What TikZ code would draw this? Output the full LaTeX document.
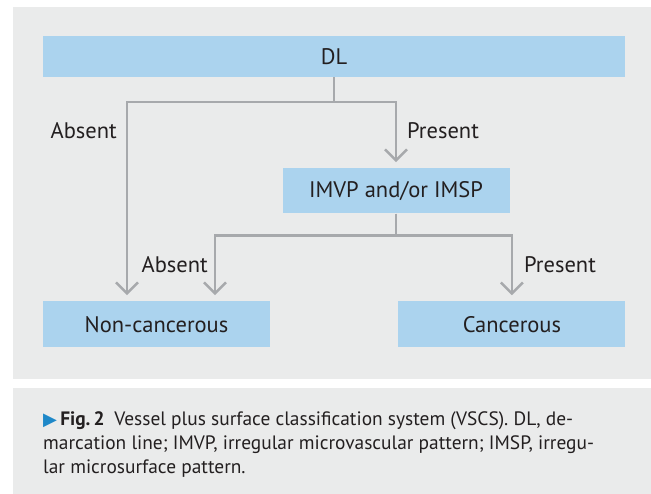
\documentclass[tikz,border=0pt]{standalone}
\usepackage{fontspec}
\setmainfont{PT Sans}
\newfontfamily\symbolfont{DejaVu Sans}
\usetikzlibrary{
	arrows.meta,
	positioning,
	backgrounds,
}
\definecolor{BoxBlue}{HTML}{ABD3EE}
\definecolor{PanelGray}{HTML}{EAEBEB}
\definecolor{LineGray}{HTML}{A7A9AC}
\definecolor{TextDark}{HTML}{231F20}
\definecolor{MarkBlue}{HTML}{1E88C8}

\begin{document}
\begin{tikzpicture}	[x=1pt,y=-1pt,
				every node/.style={align=center,text=TextDark,font=\fontsize{22.5}{27}\selectfont},
				block/.style={fill=BoxBlue,rectangle,minimum width=227pt,minimum height=45pt,inner sep=0pt},
				branch/.style={draw=LineGray,line width=2.5pt,-{Straight Barb[length=11pt,width=22pt]},shorten >=6pt},
				lbl/.style={inner sep=0pt},
			]
			\useasboundingbox (0,0) rectangle (651,494);

			\node (dl) [block,minimum width=582pt,minimum height=41pt] at (334,56.5) {DL};
			\node (imvp) [block,below=91pt of dl,xshift=62pt] {IMVP and/or IMSP};
			\node (noncanc) [block,minimum height=46pt,below right=224pt and 0pt of dl.south west] {Non-cancerous};
			\node (canc) [block,minimum height=46pt,right=128pt of noncanc] {Cancerous};
			\node (absentA) [lbl,anchor=base east] at (117,139) {Absent};
			\node (presentA) [lbl,anchor=base west] at (407,139) {Present};
			\node (absentB) [lbl,anchor=base east] at (208,272.5) {Absent};
			\node (presentB) [lbl,anchor=base west] at (524,272.5) {Present};

			\draw[branch] (dl.south) -- ++(0,25) -| ([xshift=-29.5pt]noncanc.north);
			\draw[branch] (dl.south) -- ++(0,25) -| (imvp.north);
			\draw[branch] (imvp.south) -- ++(0,22) -| ([xshift=58.5pt]noncanc.north);
			\draw[branch] (imvp.south) -- ++(0,22) -| (canc.north);

			\node (caption) [anchor=north west,align=left,inner sep=0pt,font=\fontsize{19.4}{24.2}\selectfont] at (43,411)
				{{\color{MarkBlue}\fontsize{18}{18}\symbolfont ▶}\,\textbf{Fig.\,2}\enspace Vessel plus surface classification system (VSCS). DL, de-\\
				marcation line; IMVP, irregular microvascular pattern; IMSP, irregu-\\
				lar microsurface pattern.};

			\begin{scope}[on background layer]
				\fill[PanelGray] (12.5,7) rectangle (651,379);
				\fill[PanelGray] (12.5,388) rectangle (651,494);
			\end{scope}
		\end{tikzpicture}
\end{document}
